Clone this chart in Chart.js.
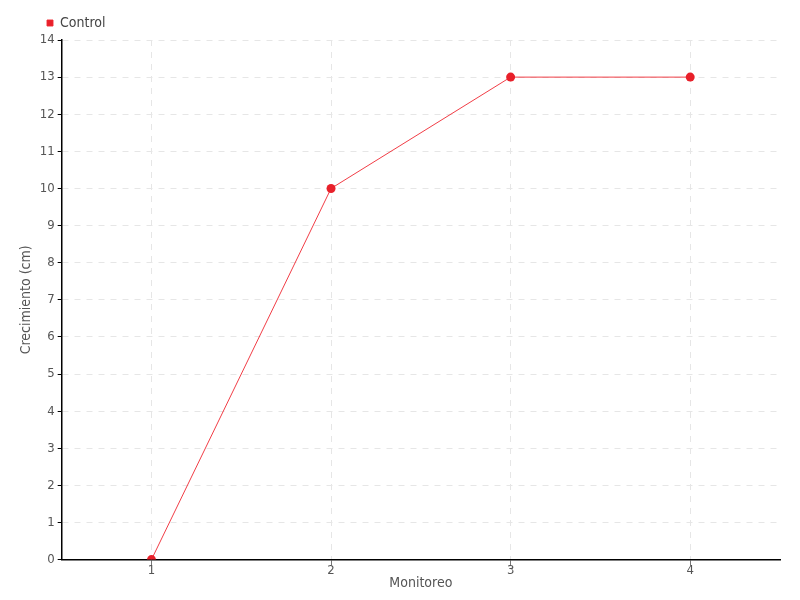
<!DOCTYPE html>
<html>
<head>
<meta charset="utf-8">
<script src="https://cdn.jsdelivr.net/npm/chart.js@4"></script>
<style>
  html, body { margin: 0; padding: 0; background: #fff; }
  #wrap { width: 800px; height: 600px; }
</style>
</head>
<body>
<div id="wrap"><canvas id="chart"></canvas></div>
<script>
const monitoreo = ['1', '2', '3', '4'];
const control = [0, 10, 13, 13];

Chart.defaults.font.family = "'DejaVu Sans Condensed', 'Liberation Sans Narrow', sans-serif";
Chart.defaults.font.size = 13;
Chart.defaults.color = '#555';

const ctx = document.getElementById('chart').getContext('2d');
new Chart(ctx, {
    type: 'line',
    data: {
        labels: monitoreo,
        datasets: [{
            label: 'Control',
            data: control,
            borderColor: 'rgba(240, 40, 50, 0.9)',
            backgroundColor: '#e8202a',
            borderWidth: 1,
            pointRadius: 4.5,
            pointHoverRadius: 5,
            pointBorderWidth: 0,
            tension: 0,
            fill: false
        }]
    },
    options: {
        responsive: true,
        maintainAspectRatio: false,
        animation: false,
        layout: {
            padding: { left: 18, right: 20, top: 6, bottom: 8 }
        },
        plugins: {
            legend: {
                position: 'top',
                align: 'start',
                labels: {
                    boxWidth: 6,
                    boxHeight: 6,
                    padding: 10,
                    color: '#444',
                    font: { size: 14 }
                }
            },
            tooltip: { enabled: false }
        },
        scales: {
            x: {
                offset: true,
                grid: {
                    offset: false,
                    color: '#e6e6e6',
                    tickColor: '#777',
                    tickLength: 6
                },
                border: { color: '#000', width: 1.5, dash: [6, 6] },
                ticks: { color: '#555', padding: -3 },
                title: {
                    display: true,
                    text: 'Monitoreo',
                    color: '#555',
                    font: { size: 14 },
                    padding: { top: 0, bottom: 0 }
                }
            },
            y: {
                min: 0,
                max: 14,
                ticks: { stepSize: 1, color: '#555', padding: 3 },
                grid: {
                    color: '#e6e6e6',
                    tickColor: '#000',
                    tickLength: 4
                },
                border: { color: '#000', width: 1.5, dash: [6, 6] },
                title: {
                    display: true,
                    text: 'Crecimiento (cm)',
                    color: '#555',
                    font: { size: 14 },
                    padding: { top: 0, bottom: 2 }
                }
            }
        }
    },
    plugins: [{
        // nudge the legend to the right, like the original
        id: 'legendShift',
        afterLayout: (chart) => {
            if (chart.legend) {
                chart.legend.left += 19;
            }
        }
    }]
});
</script>
</body>
</html>
